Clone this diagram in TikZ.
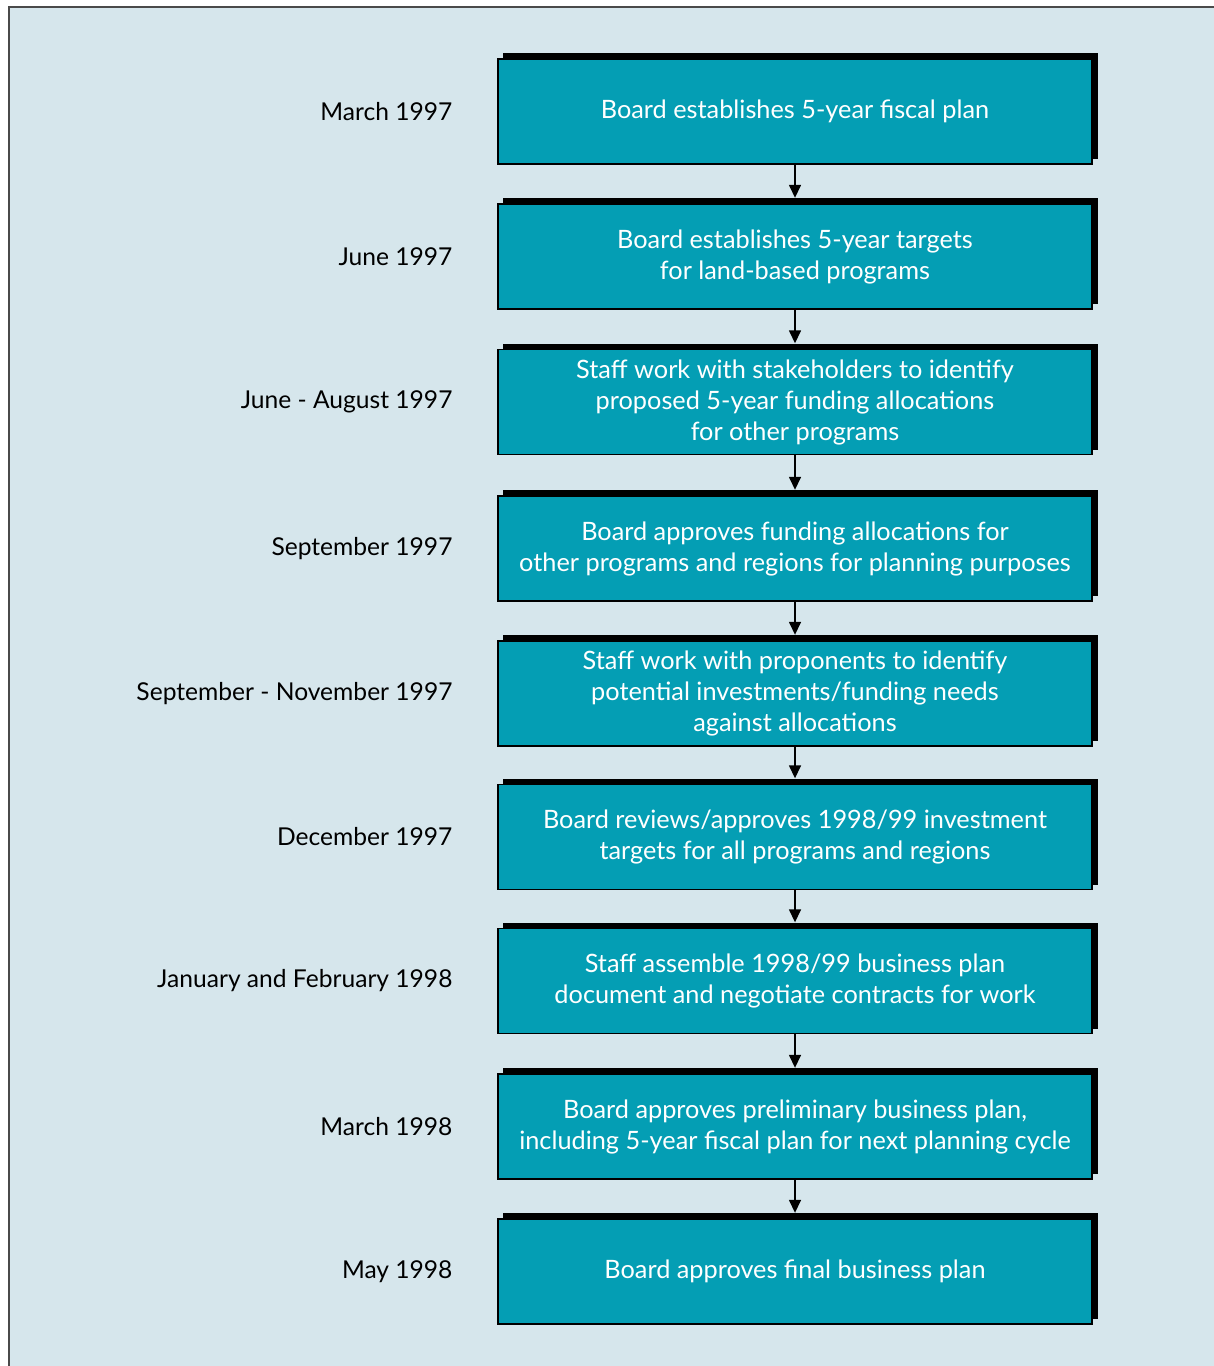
\documentclass[tikz,border=0pt]{standalone}
\usepackage{fontspec}
\setmainfont{Lato}
\usetikzlibrary{arrows.meta}
\definecolor{bgblue}{HTML}{D6E6EC}
\definecolor{teal}{HTML}{049EB4}
\definecolor{framegray}{HTML}{4A4A4A}
\tikzset{
  stepbox/.style={draw=black, line width=1.5pt, fill=teal, minimum width=594pt, minimum height=105pt,
    text=white, align=center, font=\fontsize{25.3}{31}\selectfont, inner sep=0pt},
  shadowbox/.style={fill=black, minimum width=595pt, minimum height=106pt, inner sep=0pt},
  datelabel/.style={anchor=east, font=\fontsize{24.6}{30}\selectfont, text=black},
  flow/.style={-{Triangle[length=13pt,width=12pt]}, line width=1.5pt}
}
\begin{document}
\begin{tikzpicture}[x=1pt,y=-1pt]
\useasboundingbox (0,0) rectangle (1214,1366);
\fill[white] (0,0) rectangle (1214,1366);
\fill[bgblue] (8.5,6.5) rectangle (1220,1370);
\draw[framegray, line width=2pt] (8.5,1370) -- (8.5,6.5) -- (1220,6.5);
\foreach \i/\y/\txt/\dt in {
  1/111.5/{Board establishes 5-year fiscal plan}/{March 1997},
  2/256.5/{Board establishes 5-year targets\\for land-based programs}/{June 1997},
  3/402/{Staff work with stakeholders to identify\\proposed 5-year funding allocations\\for other programs}/{June - August 1997},
  4/548.5/{Board approves funding allocations for\\other programs and regions for planning purposes}/{September 1997},
  5/693.5/{Staff work with proponents to identify\\potential investments/funding needs\\against allocations}/{September - November 1997},
  6/837/{Board reviews/approves 1998/99 investment\\targets for all programs and regions}/{December 1997},
  7/981/{Staff assemble 1998/99 business plan\\document and negotiate contracts for work}/{January and February 1998},
  8/1126.5/{Board approves preliminary business plan,\\including 5-year fiscal plan for next planning cycle}/{March 1998},
  9/1271.5/{Board approves final business plan}/{May 1998}} {
  \node[shadowbox] (s\i) at (800.5,\y-5.5) {};
  \node[stepbox] (b\i) at (795,\y) {\txt};
  \node[datelabel] (d\i) at (456,\y) {\dt};
}
\foreach \a/\b in {1/2,2/3,3/4,4/5,5/6,6/7,7/8,8/9} {
  \draw[flow] (b\a.south) -- (b\a.south |- s\b.north);
}
\end{tikzpicture}
\end{document}
